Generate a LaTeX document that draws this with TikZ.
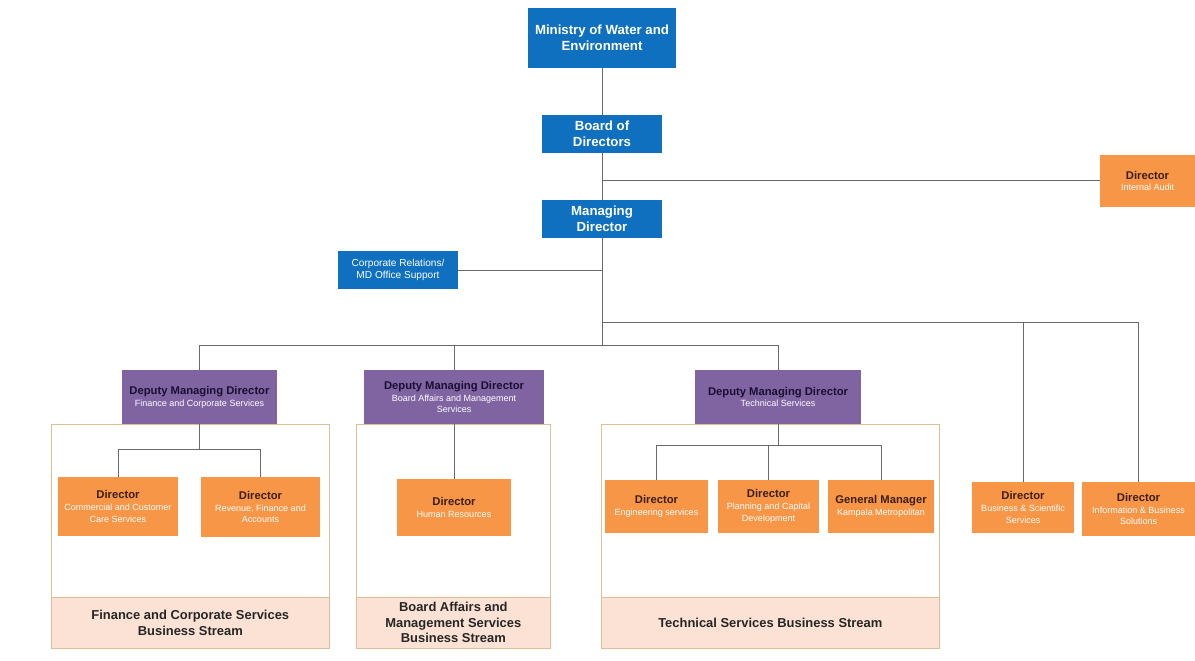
\documentclass[tikz,border=0pt]{standalone}
\usepackage{fontspec}
\setmainfont{Liberation Sans}
\usetikzlibrary{positioning}

\definecolor{mwblue}{RGB}{16,112,192}
\definecolor{mworange}{RGB}{247,150,70}
\definecolor{mwpurple}{RGB}{128,100,162}
\definecolor{mwpeach}{RGB}{251,226,212}
\definecolor{mwtan}{RGB}{222,190,150}
\definecolor{mwhead}{RGB}{60,30,20}
\definecolor{mwdmd}{RGB}{25,15,50}
\definecolor{mwline}{RGB}{105,105,105}

\newcommand{\headfont}{\fontsize{8}{9.4}\selectfont\bfseries}
\newcommand{\subfont}{\fontsize{6.4}{8.4}\selectfont}
\newcommand{\role}[3]{{\headfont\color{#1}#2}\\#3}

\begin{document}
\begin{tikzpicture}[x=0.025cm, y=-0.025cm]

  \tikzstyle{unit}=[draw=none, align=center, inner sep=1pt]
  \tikzstyle{top}=[unit, fill=mwblue, text=white, font=\fontsize{9.4}{11.5}\selectfont\bfseries]
  \tikzstyle{office}=[unit, fill=mwblue, text=white, font=\fontsize{7.2}{8.8}\selectfont]
  \tikzstyle{director}=[unit, fill=mworange, text=white, font=\subfont]
  \tikzstyle{deputy}=[unit, fill=mwpurple, text=white, font=\subfont]
  \tikzstyle{stream}=[draw=mwtan, fill=white, anchor=north west, inner sep=0pt]
  \tikzstyle{band}=[draw=mwtan, fill=mwpeach, anchor=north west, inner sep=0pt, align=center,
    font=\fontsize{9.2}{11}\selectfont\bfseries, text=black!85]
  \tikzstyle{link}=[draw=mwline, line width=0.6pt]

  \useasboundingbox (0,0) rectangle (1195,661);

  % business streams
  \node [stream, minimum width=6.95cm, minimum height=4.325cm] at (51,424) (S-A) {};
  \node [stream, minimum width=4.85cm, minimum height=4.325cm] at (356,424) (S-B) {};
  \node [stream, minimum width=8.45cm, minimum height=4.325cm] at (601,424) (S-C) {};
  \node [band, minimum width=6.95cm, minimum height=1.275cm] at (51,597) (B-A)
    {Finance and Corporate Services\\Business Stream};
  \node [band, minimum width=4.85cm, minimum height=1.275cm] at (356,597) (B-B)
    {Board Affairs and\\Management Services\\Business Stream};
  \node [band, minimum width=8.45cm, minimum height=1.275cm] at (601,597) (B-C)
    {Technical Services Business Stream};

  \node [top, minimum width=3.7cm, minimum height=1.5cm] at (602,38) (ministry) {Ministry of Water and\\Environment};
  \node [top, minimum width=3cm, minimum height=0.95cm] at (602,134) (board) {Board of\\Directors};
  \node [top, minimum width=3cm, minimum height=0.95cm] at (602,219) (md) {Managing\\Director};
  \node [office, minimum width=3cm, minimum height=0.95cm] at (398,270) (corp) {Corporate Relations/\\MD Office Support};
  \node [director, minimum width=2.375cm, minimum height=1.3cm] at (1147.5,181) (audit)
    {\role{mwhead}{Director}{Internal Audit}};

  \node [deputy, minimum width=3.875cm, minimum height=1.35cm] at (199.5,397) (D-A)
    {\role{mwdmd}{Deputy Managing Director}{Finance and Corporate Services}};
  \node [deputy, minimum width=4.5cm, minimum height=1.35cm] at (454,397) (D-B)
    {\role{mwdmd}{Deputy Managing Director}{Board Affairs and Management\\Services}};
  \node [deputy, minimum width=4.15cm, minimum height=1.35cm] at (778,397) (D-C)
    {\role{mwdmd}{Deputy Managing Director}{Technical Services}};

  \node [director, minimum width=3cm, minimum height=1.475cm] at (118,506.5) (A-1)
    {\role{mwhead}{Director}{Commercial and Customer\\Care Services}};
  \node [director, minimum width=2.975cm, minimum height=1.5cm] at (260.5,507) (A-2)
    {\role{mwhead}{Director}{Revenue, Finance and\\Accounts}};
  \node [director, minimum width=2.85cm, minimum height=1.425cm] at (454,507.5) (B-1)
    {\role{mwhead}{Director}{Human Resources}};
  \node [director, minimum width=2.575cm, minimum height=1.325cm] at (656.5,506.5) (C-1)
    {\role{mwhead}{Director}{Engineering services}};
  \node [director, minimum width=2.525cm, minimum height=1.325cm] at (768.5,506.5) (C-2)
    {\role{mwhead}{Director}{Planning and Capital\\Development}};
  \node [director, minimum width=2.65cm, minimum height=1.325cm] at (881,506.5) (C-3)
    {\role{mwhead}{General Manager}{Kampala Metropolitan}};
  \node [director, minimum width=2.55cm, minimum height=1.275cm] at (1023,507.5) (bsd)
    {\role{mwhead}{Director}{Business \& Scientific\\Services}};
  \node [director, minimum width=2.825cm, minimum height=1.35cm] at (1138.5,509) (ibs)
    {\role{mwhead}{Director}{Information \& Business\\Solutions}};

  \coordinate (bus-1) at (602,322);
  \coordinate (bus-2) at (602,345);
  \coordinate (fork-A) at (199.5,449);
  \coordinate (fork-C) at (778,445);

  \draw [link] (ministry) -- (board);
  \draw [link] (board) -- (md);
  \draw [link] (audit.west |- 0,180) -- (md |- 0,180);
  \draw [link] (corp) -- (corp -| md);
  \draw [link] (md) -- (bus-2);
  \draw [link] (bus-1) -| (bsd);
  \draw [link] (bus-1) -| (ibs);
  \foreach \s in {A,B,C} {
    \draw [link] (bus-2) -| (D-\s);
  }

  \draw [link] (D-A) -- (fork-A);
  \draw [link] (fork-A) -| (A-1);
  \draw [link] (fork-A) -| (A-2);
  \draw [link] (D-B) -- (B-1);
  \draw [link] (D-C) -- (fork-C);
  \foreach \x in {1,2,3} {
    \draw [link] (fork-C) -| (C-\x);
  }

\end{tikzpicture}
\end{document}
